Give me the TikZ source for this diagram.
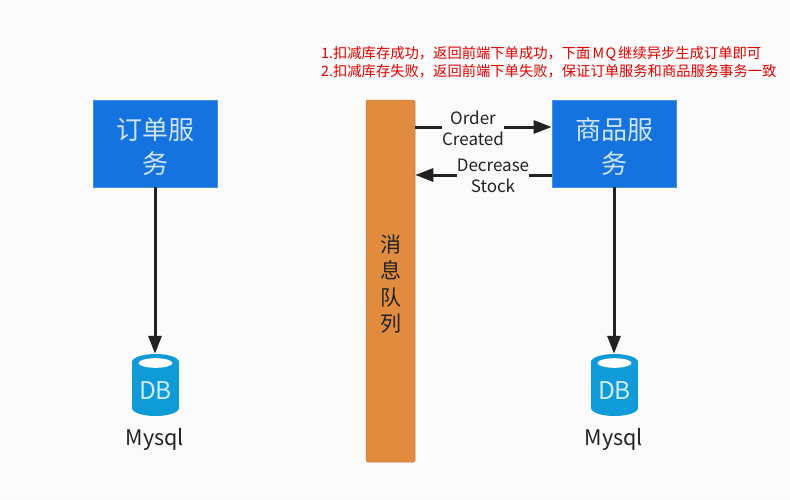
\documentclass[tikz,border=0pt]{standalone}
\usepackage{fontspec}
\setmainfont{Noto Sans CJK SC}
\usetikzlibrary{arrows.meta,positioning,shapes.geometric}
\definecolor{pagebg}{HTML}{FBFBFB}
\definecolor{svcblue}{HTML}{1573E0}
\definecolor{svcedge}{HTML}{4A90D8}
\definecolor{queueor}{HTML}{E08B3E}
\definecolor{dbblue}{HTML}{0F9AD8}
\definecolor{inkdark}{HTML}{222222}
\tikzset{
  svc/.style={draw=svcedge,line width=.8pt,fill=svcblue,minimum width=124pt,minimum height=87pt,inner sep=0pt},
  svctext/.style={text=white!80!svcblue,inner sep=0pt,align=center,font=\fontsize{26}{34}\selectfont},
  queue/.style={draw=queueor!90!black,line width=.5pt,fill=queueor,rounded corners=1.5pt,minimum width=49pt,minimum height=362pt,inner sep=0pt},
  queuetext/.style={inner sep=0pt,align=center,text=inkdark,font=\fontsize{21}{26.5}\selectfont},
  flow/.style={draw=inkdark,line width=3pt,-{Stealth[length=18pt,width=13pt,inset=0pt]}},
  flowlabel/.style={fill=pagebg,inner sep=0pt,align=center,text=inkdark,font=\fontsize{17}{21}\selectfont},
  note/.style={text=red!90!black,anchor=west,inner sep=0pt,font=\fontsize{14.3}{17}\selectfont},
  dblabel/.style={text=inkdark,inner sep=0pt,font=\fontsize{21.5}{25}\selectfont},
  dbtext/.style={text=white!80!dbblue,inner sep=0pt,font=\fontsize{24.5}{28}\selectfont},
}
\newcommand{\dbicon}[2]{%
  \fill[dbblue] (#1-23.5,362) rectangle (#1+23.5,408);
  \fill[dbblue] (#1,362) ellipse[x radius=23.5,y radius=8];
  \fill[dbblue] (#1,408) ellipse[x radius=23.5,y radius=8];
  \fill[white] (#1,#2) ellipse[x radius=17,y radius=4.8];
}
\begin{document}
\begin{tikzpicture}[x=1pt,y=-1pt]
\useasboundingbox (0,0) rectangle (790,499);
\fill[pagebg] (0,0) rectangle (790,499);

\node[note] (n1) at (321,53.5) {1.扣减库存成功，返回前端下单成功，下面\hspace{2pt}M\hspace{1.5pt}Q\hspace{2pt}继续异步生成订单即可};
\node[note] (n2) at (321,71.5) {2.扣减库存失败，返回前端下单失败，保证订单服务和商品服务事务一致};

\node[svc] (order) at (155,143.5) {};
\node[svc] (goods) at (614,143.5) {};
\node[svctext] (ordert) at (155,147) {订单服\\务};
\node[svctext] (goodst) at (614,147) {商品服\\务};
\node[queue] (mq) at (390.5,281) {};
\node[queuetext] (mqt) at (391,284) {消\\息\\队\\列};

\dbicon{155.5}{363}
\dbicon{614.5}{363}
\node[inner sep=0pt,minimum width=47pt,minimum height=62pt] (db1) at (155.5,385) {};
\node[inner sep=0pt,minimum width=47pt,minimum height=62pt] (db2) at (614.5,385) {};
\node[dbtext] (db1t) at (155.5,391) {DB};
\node[dbtext] (db2t) at (614.5,391) {DB};
\node[dblabel] (my1) at (155,439) {Mysql};
\node[dblabel] (my2) at (614,439) {Mysql};

\coordinate (o1) at (mq.east |- 0,127);
\coordinate (o2) at (goods.west |- 0,127);
\coordinate (d1) at (goods.west |- 0,175);
\coordinate (d2) at (mq.east |- 0,175);
\draw[flow] (o1) -- (o2);
\draw[flow] (d1) -- (d2);
\draw[flow] (order.south) -- (order.south |- db1.north);
\draw[flow] (goods.south) -- (goods.south |- db2.north);

\node[flowlabel] (lo) at (473,128) {Order\\Created};
\node[flowlabel] (ld) at (493,176) {Decrease\\Stock};
\end{tikzpicture}
\end{document}
